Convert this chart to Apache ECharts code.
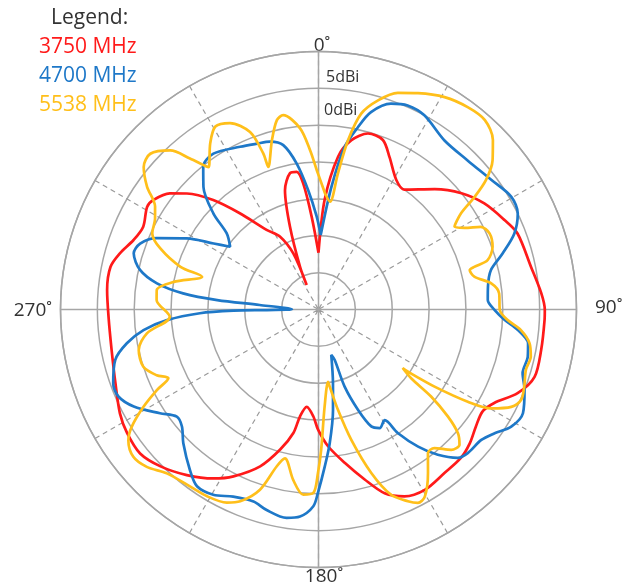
<!DOCTYPE html>
<html>
<head>
<meta charset="utf-8">
<script src="https://cdn.jsdelivr.net/npm/echarts@6/dist/echarts.min.js"></script>
<style>
  html, body { margin: 0; padding: 0; background: #fff; }
  #chart { width: 638px; height: 585px; }
</style>
</head>
<body>
<div id="chart"></div>
<script>
// gain (dBi) against azimuth (deg)
var angle3750 = [0, 3.2, 7.3, 11, 15.7, 20.8, 25, 31, 35.6, 44, 50.9, 57.4, 64.3, 69.1, 78.6, 85.8, 90.1, 92.7, 100.3, 107.3,
  112.8, 118, 121.9, 126.6, 131.5, 136.2, 142.4, 149.5, 155.3, 160.2, 164.8, 170.3, 176, 180.2, 182.8, 186.9, 189.8, 191.5,
  195.3, 200.4, 207, 211.9, 218.5, 225.2, 231.1, 237.2, 242.4, 250.1, 258.9, 268, 275.3, 281.6, 285.8, 290.6, 295.3, 300.9,
  303.5, 308, 311.4, 316.1, 320.8, 326.9, 332.1, 335.8, 334.3, 336.6, 341, 344.3, 348.2, 351, 353.1, 355.8, 0];
var gain3750 = [-17.3, -10.1, -4.1, -1.6, -0.2, -0.4, -2.2, -4.5, -5.0, -2.3, 0.0, 1.7, 3.0, 3.9, 4.4, 5.3, 5.7, 5.7, 5.7, 5.7,
  4.3, 2.0, 1.2, 1.6, 2.4, 2.9, 3.0, 3.4, 2.9, 1.5, -1.1, -3.9, -6.4, -8.7, -10.5, -11.7, -10.3, -7.9,
  -5.3, -2.3, 0.4, 2.0, 3.7, 5.2, 6.1, 5.9, 5.4, 4.3, 3.6, 3.5, 3.8, 3.8, 3.0, 1.8, 1.3, 2.1,
  1.9, 0.6, -1.2, -4.4, -8.2, -12.1, -13.8, -16.7, -21.3, -18.7, -13.1, -8.2, -6.1, -6.1, -7.8, -12.4, -17.3];

var angle4700 = [1.7, 6, 9.1, 12.2, 14.9, 19.4, 23.6, 28.6, 36.7, 45, 53.1, 59.7, 64.3, 68.8, 73.1, 77.1, 82.3, 86.8, 90.2,
  93.2, 95.9, 99.2, 102.7, 107.3, 111.3, 116.9, 121.3, 125.1, 128.7, 133.9, 136.8, 140.6, 144, 147.3, 149.1, 152.7, 155.7,
  158.5, 161.3, 162.2, 164.3, 168.9, 171.8, 175.2, 177.7, 180.2, 181.5, 185.1, 188.7, 194.5, 198.7, 204.5, 209.6, 214.5,
  218.7, 225.3, 229.4, 232.9, 236.8, 242.3, 246.5, 250.2, 256.1, 260, 263.3, 266, 268.2, 269.2, 269.4, 270.4, 274.4, 275.3,
  276.8, 279.2, 282.5, 286.9, 290.3, 293.8, 298.4, 302.2, 305.4, 309.7, 312.4, 316.8, 321.1, 326, 334.3, 339.6, 343.9,
  347.9, 351.5, 355.1, 358.9, 1.7];
var gain4700 = [-14.9, -8.3, -2.7, 0.3, 2.7, 4.6, 5.2, 5.0, 3.6, 3.6, 4.3, 5.3, 5.0, 3.5, 1.1, -1.0, -1.8, -2.0, -1.1,
  0.3, 2.2, 3.8, 4.1, 4.0, 5.0, 6.1, 5.6, 4.2, 3.3, 3.1, 2.6, 0.5, -2.0, -5.1, -7.5, -6.9, -7.6,
  -10.4, -14.0, -17.8, -18.6, -14.8, -11.2, -6.8, -3.7, -0.1, 1.7, 3.2, 3.6, 3.1, 2.5, 2.9, 3.9, 4.1,
  2.9, 0.8, -0.6, -0.9, 0.7, 3.3, 4.6, 4.6, 3.4, 1.4, -1.1, -4.4, -8.9, -13.5, -18.0, -21.4, -17.0, -11.2,
  -6.5, -2.8, -0.2, 1.2, 0.8, -1.0, -4.7, -8.2, -10.3, -8.8, -5.7, -2.2, -0.1, 0.5, -0.5, -1.0, -1.3,
  -2.2, -5.0, -8.8, -12.4, -14.9];

var angle5538 = [3.2, 6.1, 8.1, 9.9, 12.3, 15.9, 20.1, 24.7, 30.7, 36.4, 41.3, 45.8, 49.4, 52.3, 54.2, 56, 58.7, 60.8, 63,
  66, 70.2, 73.7, 74.7, 75.4, 78.1, 81.4, 84.9, 90.2, 93.2, 95.8, 99.1, 102.5, 106.2, 110.5, 114, 116.8, 119.8, 121.7,
  123.6, 124.8, 124.8, 126.6, 127.7, 129.6, 131.6, 133.8, 136.6, 140.1, 142.7, 146.2, 150.4, 152.8, 155, 158.6, 162.1,
  165.9, 169, 171.7, 172.5, 176.4, 178.9, 180.2, 181.6, 184.7, 188.4, 192.7, 194.9, 198, 202.2, 205.4, 210.8, 216.9,
  222.8, 227.5, 231.5, 235.5, 237.9, 240.9, 243.5, 245.4, 247.9, 251.9, 257.3, 262.1, 267.2, 273.4, 276.9, 280.8, 285.7,
  287.2, 291.1, 294.6, 299.2, 302.2, 305.6, 309.2, 312.8, 317, 319.6, 322.3, 326.9, 330.6, 334.6, 338.9, 340.5, 340.6,
  344.6, 347.6, 349.7, 354.2, 357, 359.3, 3.2];
var gain5538 = [-9.2, -10.3, -6.4, -1.7, 2.2, 4.5, 6.3, 7.3, 8.5, 9.1, 9.2, 8.0, 6.1, 3.7, 1.1, -1.7, -3.4, -2.3, -0.3,
  0.4, 0.1, -1.1, -3.1, -3.8, -3.4, -1.3, -0.4, -0.4, 0.7, 2.6, 4.0, 4.5, 4.3, 4.8, 5.1, 4.3, 2.0, -1.2,
  -6.1, -10.2, -11.1, -9.3, -5.7, -2.2, 0.3, 1.5, 1.2, -0.5, -0.5, 1.7, 4.2, 4.5, 3.7, 2.0, -1.7,
  -6.8, -11.1, -14.4, -15.1, -11.8, -6.0, -2.8, -0.1, 0.2, -1.6, -4.3, -3.0, 0.7, 3.1, 4.0, 4.5, 4.7,
  5.3, 6.6, 7.1, 6.3, 4.9, 2.2, -0.5, -2.6, -1.3, 0.0, 0.0, -1.5, -4.8, -3.0, -2.9, -5.0, -8.6,
  -5.4, -2.0, -0.2, 0.4, 1.2, 3.6, 5.6, 6.1, 4.5, 1.9, -0.6, 1.9, 3.5, 3.0, 0.8, -2.5, -4.5,
  -1.2, 1.3, 1.8, -0.3, -3.4, -6.1, -9.2];

var gainTicks = [-25, -20, -15, -10, -5, 0, 5, 10];

function pairs(gain, angle) {
  var out = [];
  for (var i = 0; i < gain.length; i++) {
    out.push([gain[i], angle[i]]);
  }
  return out;
}

var chart = echarts.init(document.getElementById('chart'));
var grey = '#a6a6a6';
var cx = 318.5, cy = 309.5, R = 258;

var option = {
  animation: false,
  backgroundColor: '#fff',
  title: {
    text: 'Legend:',
    left: 51,
    top: 8,
    padding: 0,
    textStyle: { fontFamily: 'Open Sans', fontSize: 21, fontWeight: 'normal', color: '#333' }
  },
  legend: {
    orient: 'vertical',
    left: 34,
    top: 37,
    padding: 0,
    itemGap: 8,
    itemWidth: 0,
    itemHeight: 0,
    icon: 'none',
    selectedMode: false,
    textStyle: { fontFamily: 'Open Sans', fontSize: 21 },
    data: [
      { name: '3750 MHz', textStyle: { color: '#ff1a1a' } },
      { name: '4700 MHz', textStyle: { color: '#1e78c8' } },
      { name: '5538 MHz', textStyle: { color: '#ffbf1a' } }
    ]
  },
  polar: [
    { center: [cx, cy], radius: R },
    { center: [cx, cy], radius: R }
  ],
  angleAxis: [{
    polarIndex: 0,
    type: 'value',
    min: 0,
    max: 360,
    interval: 30,
    startAngle: 90,
    clockwise: true,
    axisLine: { lineStyle: { color: grey, width: 1.5 } },
    axisTick: { show: false },
    axisLabel: { show: false },
    splitLine: { lineStyle: { color: '#9a9a9a', type: [5, 4], width: 1.2 } }
  }, {
    polarIndex: 1,
    type: 'value',
    min: 0,
    max: 360,
    interval: 90,
    startAngle: 90,
    clockwise: true,
    axisLine: { show: false },
    axisTick: { show: false },
    axisLabel: { show: false },
    splitLine: { lineStyle: { color: grey, width: 1.5 } }
  }],
  radiusAxis: [{
    polarIndex: 0,
    min: gainTicks[0],
    max: gainTicks[gainTicks.length - 1],
    interval: 5,
    axisLine: { show: false },
    axisTick: { show: false },
    axisLabel: { show: false },
    splitLine: { lineStyle: { color: grey, width: 1.5 } }
  }, {
    polarIndex: 1,
    min: gainTicks[0],
    max: gainTicks[gainTicks.length - 1],
    interval: 5,
    show: false,
    splitLine: { show: false }
  }],
  graphic: [
    { type: 'text', x: 322, y: 46, style: { text: '0˚', align: 'center', verticalAlign: 'middle', font: '19px "Open Sans"', fill: '#333' } },
    { type: 'text', x: 595, y: 308, style: { text: '90˚', align: 'left', verticalAlign: 'middle', font: '19px "Open Sans"', fill: '#333' } },
    { type: 'text', x: 324, y: 577, style: { text: '180˚', align: 'center', verticalAlign: 'middle', font: '19px "Open Sans"', fill: '#333' } },
    { type: 'text', x: 52, y: 311, style: { text: '270˚', align: 'right', verticalAlign: 'middle', font: '19px "Open Sans"', fill: '#333' } },
    { type: 'text', x: 326, y: 77, style: { text: '5dBi', align: 'left', verticalAlign: 'middle', font: '16px "Open Sans"', fill: '#333' } },
    { type: 'text', x: 324, y: 110, style: { text: '0dBi', align: 'left', verticalAlign: 'middle', font: '16px "Open Sans"', fill: '#333' } }
  ],
  series: [{
    name: '3750 MHz',
    type: 'line',
    coordinateSystem: 'polar',
    polarIndex: 0,
    data: pairs(gain3750, angle3750),
    smooth: 0.3,
    showSymbol: false,
    lineStyle: { color: '#ff1a1a', width: 2.7 },
    itemStyle: { color: '#ff1a1a' }
  }, {
    name: '4700 MHz',
    type: 'line',
    coordinateSystem: 'polar',
    polarIndex: 0,
    data: pairs(gain4700, angle4700),
    smooth: 0.3,
    showSymbol: false,
    lineStyle: { color: '#1e78c8', width: 2.7 },
    itemStyle: { color: '#1e78c8' }
  }, {
    name: '5538 MHz',
    type: 'line',
    coordinateSystem: 'polar',
    polarIndex: 0,
    data: pairs(gain5538, angle5538),
    smooth: 0.3,
    showSymbol: false,
    lineStyle: { color: '#ffbf1a', width: 2.7 },
    itemStyle: { color: '#ffbf1a' }
  }]
};
chart.setOption(option);
</script>
</body>
</html>
